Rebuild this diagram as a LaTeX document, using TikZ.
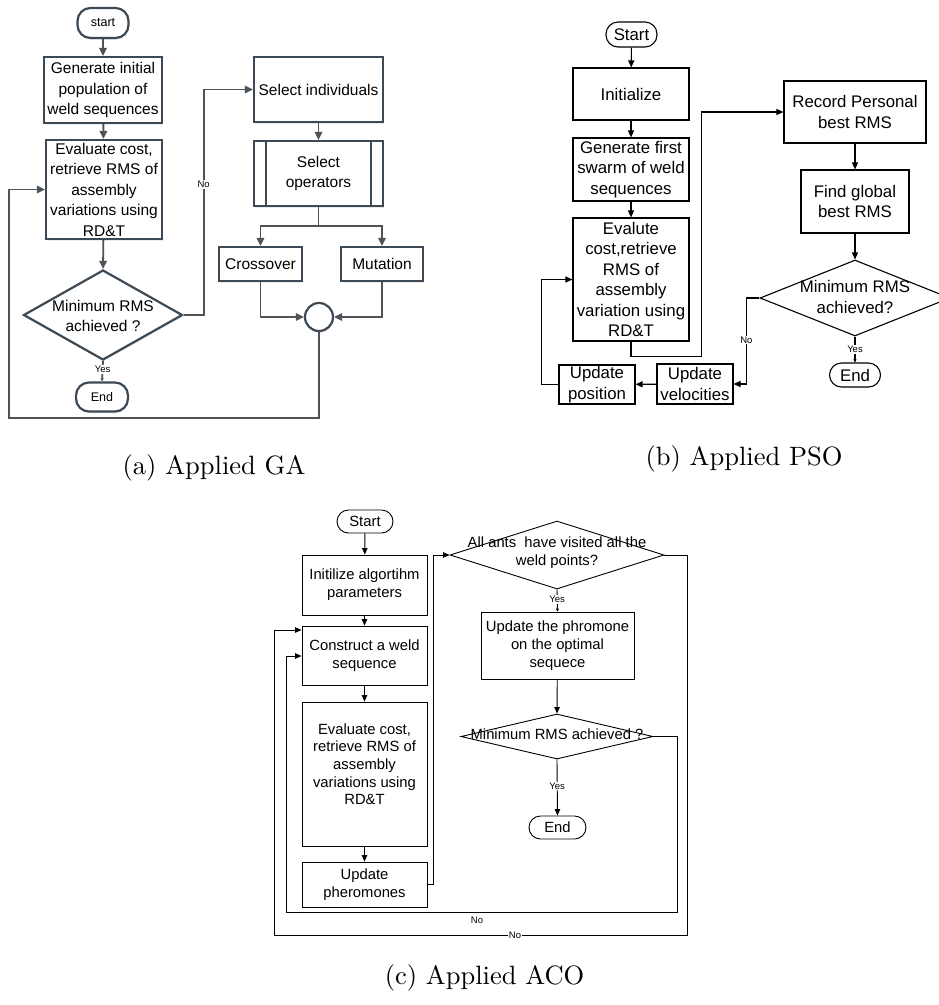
\documentclass[tikz,border=0pt]{standalone}
\usepackage{fontspec}
\newfontfamily\arial{Liberation Sans}
\newfontfamily\capfam{lmroman10-regular.otf}
\usetikzlibrary{arrows.meta,shapes.geometric,shadows}
\definecolor{gaedge}{HTML}{3D4955}
\definecolor{galinec}{HTML}{4F5357}
\newcommand\gafont{\arial\fontsize{15.5}{20.5}\selectfont}
\newcommand\gasmall{\arial\fontsize{12.5}{14}\selectfont}
\newcommand\psofont{\arial\fontsize{16.8}{20.5}\selectfont}
\newcommand\acofont{\arial\fontsize{14.8}{17.7}\selectfont}
\newcommand\lblfont{\arial\fontsize{9.5}{11}\selectfont}
\newcommand\capfont{\capfam\fontsize{26.5}{30}\selectfont}
\begin{document}
\begin{tikzpicture}[x=1pt,y=-1pt,
 gabox/.style={draw=gaedge,line width=2.2pt,fill=white,inner sep=1pt,align=center,font=\gafont,
   drop shadow={shadow xshift=0.8pt,shadow yshift=-1.8pt,opacity=0.15}},
 gaterm/.style={gabox,rounded corners=13pt,font=\gasmall},
 gadia/.style={diamond,draw=gaedge,line width=2.2pt,fill=white,inner sep=0pt,
   drop shadow={shadow xshift=0.8pt,shadow yshift=-1.8pt,opacity=0.15}},
 gaarrow/.style={draw=galinec,line width=1.8pt,-{Triangle[length=8pt,width=7.5pt]}},
 galink/.style={draw=galinec,line width=1.8pt},
 pbox/.style={draw,line width=1.1pt,fill=white,inner sep=1pt,align=center,font=\psofont},
 pterm/.style={pbox,rounded corners=12pt},
 pdia/.style={diamond,draw,line width=1.1pt,inner sep=0pt},
 parrow/.style={draw,line width=1.1pt,-{Triangle[length=7pt,width=6pt]}},
 abox/.style={draw,line width=0.9pt,fill=white,inner sep=1pt,align=center,font=\acofont},
 aterm/.style={abox,rounded corners=11.5pt},
 adia/.style={diamond,draw,line width=0.9pt,inner sep=0pt},
 aarrow/.style={draw,line width=0.9pt,-{Triangle[length=6.5pt,width=5.5pt]}},
 alink/.style={draw,line width=0.9pt},
 tinytip/.style={-{Triangle[length=3pt,width=3pt]}},
 lbl/.style={font=\lblfont,fill=white,inner sep=1pt},
 captext/.style={font=\capfont,inner sep=0pt},
]
\useasboundingbox (0,0) rectangle (939,1005);

% ================= GA =================
\node[gaterm,minimum width=51pt,minimum height=30pt] (gs) at (103,23) {start};
\node[gabox,minimum width=118pt,minimum height=66pt] (g1) at (103,90) {Generate initial\\population of\\weld sequences};
\node[gabox,minimum width=116pt,minimum height=99pt] (g2) at (104,189.5) {Evaluate cost,\\retrieve RMS of\\assembly\\variations using\\RD\&T};
\node[gadia,minimum width=159pt,minimum height=90pt] (gd) at (103,315) {};
\node[font=\gafont,align=center,inner sep=0pt] (gdt) at (103,316) {Minimum RMS\\achieved ?};
\node[gaterm,minimum width=52pt,minimum height=29pt] (ge) at (102,397) {End};
\node[gabox,minimum width=129pt,minimum height=65pt] (gsi) at (318.5,89.5) {Select individuals};
\node[gabox,minimum width=129pt,minimum height=65pt] (gso) at (318.5,173.5) {Select\\operators};
\draw[draw=gaedge,line width=2.2pt] ([xshift=13pt]gso.north west) -- ([xshift=13pt]gso.south west);
\draw[draw=gaedge,line width=2.2pt] ([xshift=-13pt]gso.north east) -- ([xshift=-13pt]gso.south east);
\node[gabox,minimum width=83pt,minimum height=34pt] (gc) at (260.5,264) {Crossover};
\node[gabox,minimum width=82pt,minimum height=34pt] (gm) at (382,264) {Mutation};
\node[circle,draw=gaedge,line width=2.2pt,fill=white,minimum size=28pt,inner sep=0pt,
   drop shadow={shadow xshift=0.8pt,shadow yshift=-1.8pt,opacity=0.15}] (gcirc) at (319,317) {};
\coordinate (gl) at (9,418);

\draw[gaarrow] (gs) -- (g1);
\draw[gaarrow] (g1) -- (g2);
\draw[gaarrow] (g2) -- (gd.north);
\draw[galink,tinytip] (gd.south) -- node[lbl,pos=0.42]{Yes} (ge.north);
\draw[gaarrow] (gd.east) -- ++(20,0) |- node[lbl,pos=0.29]{No} (gsi.west);
\draw[gaarrow] (gsi) -- (gso);
\draw[gaarrow] (gso.south) -- ++(0,19) -| (gc.north);
\draw[gaarrow] (gso.south) -- ++(0,19) -| (gm.north);
\draw[gaarrow] (gc.south) |- (gcirc.west);
\draw[gaarrow] (gm.south) |- (gcirc.east);
\draw[gaarrow] (gcirc.south) |- (gl) |- (g2.west);

% ================= PSO =================
\node[pterm,minimum width=51pt,minimum height=25pt] (ps) at (631.5,34.5) {Start};
\node[pbox,minimum width=116pt,minimum height=52pt] (pi) at (631,94) {Initialize};
\node[pbox,minimum width=116pt,minimum height=63pt] (pg) at (631,169.5) {Generate first\\swarm of weld\\sequences};
\node[pbox,minimum width=116pt,minimum height=123pt] (pe) at (631,279.5) {Evalute\\cost,retrieve\\RMS of\\assembly\\variation using\\RD\&T};
\node[pbox,minimum width=142pt,minimum height=62pt] (pr) at (855,112) {Record Personal\\best RMS};
\node[pbox,minimum width=108pt,minimum height=63pt] (pf) at (855,201.5) {Find global\\best RMS};
\node[pdia,minimum width=190pt,minimum height=76pt] (pd) at (855,298) {};
\node[font=\psofont,align=center,inner sep=0pt] (pdt) at (855,297) {Minimum RMS\\achieved?};
\node[pterm,minimum width=51pt,minimum height=24pt] (pend) at (855,375) {End};
\node[pbox,minimum width=76pt,minimum height=40pt,inner sep=0pt] (pv) at (695,384) {Update\\velocities};
\node[pbox,minimum width=76pt,minimum height=39pt,inner sep=0pt] (pp) at (597,384.5) {Update\\position};

\draw[parrow] (ps) -- (pi);
\draw[parrow] (pi) -- (pg);
\draw[parrow] (pg) -- (pe);
\draw[parrow] (pe.south) -- ++(0,15) -| ([xshift=-82pt]pr.west) -- (pr.west);
\draw[parrow] (pr) -- (pf);
\draw[parrow] (pf) -- (pd.north);
\draw[draw,line width=1.1pt,tinytip] (pd.south) -- node[lbl,pos=0.5]{Yes} (pend.north);
\draw[parrow] (pd.west) -- ++(-13,0) |- node[lbl,pos=0.245]{No} (pv.east);
\draw[parrow] (pv) -- (pp);
\draw[parrow] (pp.west) -- ++(-17,0) |- (pe.west);

% ================= ACO =================
\node[aterm,minimum width=56pt,minimum height=23pt] (as) at (365,521.5) {Start};
\node[abox,minimum width=125pt,minimum height=60pt] (ai) at (364.5,585) {Initilize algortihm\\parameters};
\node[abox,minimum width=125pt,minimum height=59pt] (ac) at (364.5,655.5) {Construct a weld\\sequence};
\node[abox,minimum width=125pt,minimum height=144pt] (ae) at (364.5,774) {Evaluate cost,\\retrieve RMS of\\assembly\\variations using\\RD\&T\\[2pt]};
\node[abox,minimum width=125pt,minimum height=45pt] (au) at (364.5,884.5) {Update\\pheromones};
\node[adia,minimum width=214pt,minimum height=68pt] (ad1) at (557,555) {};
\node[font=\acofont,align=center,inner sep=0pt] (ad1t) at (557,553) {All ants~ have visited all the\\weld points?};
\node[abox,minimum width=153pt,minimum height=67pt] (aph) at (557.5,645.5) {Update the phromone\\on the optimal\\sequece};
\node[adia,minimum width=192pt,minimum height=45pt] (ad2) at (557,736.5) {};
\node[font=\acofont,inner sep=0pt] (ad2t) at (557,734) {Minimum RMS achieved ?};
\node[aterm,minimum width=57pt,minimum height=23pt] (aend) at (557.5,827.5) {End};
\coordinate (a1c) at (274,935);
\coordinate (a2c) at (286,912);

\draw[aarrow] (as) -- (ai);
\draw[aarrow] (ai) -- (ac);
\draw[aarrow] (ac) -- (ae);
\draw[aarrow] (ae) -- (au);
\draw[aarrow] (au.east) -- ++(6,0) |- (ad1.west);
\draw[alink,tinytip] (ad1.south) -- node[lbl,pos=0.45]{Yes} (aph.north);
\draw[aarrow] (aph) -- (ad2.north);
\draw[aarrow] (ad2.south) -- node[lbl,pos=0.47]{Yes} (aend.north);
\draw[aarrow] (ad1.east) -- ++(23,0) |- (a1c) |- ([yshift=25.5pt]ac.west);
\node[lbl] (ano1) at (515,935) {No};
\draw[aarrow] (ad2.east) -- ++(24,0) |- (a2c) |- ([yshift=-0.5pt]ac.west);
\node[font=\lblfont,inner sep=0pt] (ano2) at (477,920) {No};

% ================= captions =================
\node[captext] (capa) at (214,468) {(a) Applied GA};
\node[captext] (capb) at (744,459) {(b) Applied PSO};
\node[captext] (capc) at (484.5,978) {(c) Applied ACO};
\end{tikzpicture}
\end{document}
